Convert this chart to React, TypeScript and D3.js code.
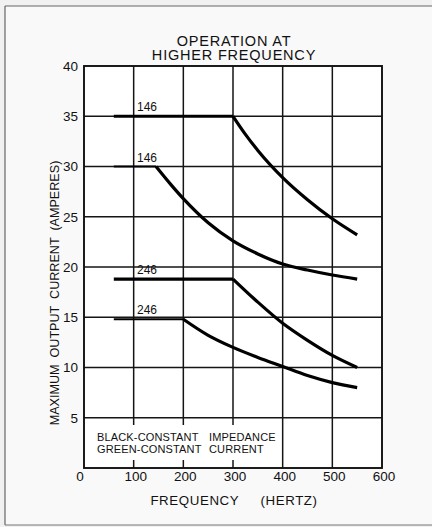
import React from "react";
import * as d3 from "d3";

const W = 432;
const H = 527;

// Data
const xTicks = [0, 100, 200, 300, 400, 500, 600];
const yTicks = [5, 10, 15, 20, 25, 30, 35, 40];

// 146 – constant impedance (black)
const s146ImpFreq = [60, 300, 325, 350, 400, 450, 500, 550];
const s146ImpAmp = [35, 35, 33.2, 31.6, 28.9, 26.7, 24.8, 23.2];
// 146 – constant current (green)
const s146CurFreq = [60, 145, 175, 200, 250, 300, 350, 400, 450, 500, 550];
const s146CurAmp = [30, 30, 28.2, 26.8, 24.4, 22.6, 21.3, 20.3, 19.7, 19.2, 18.8];
// 246 – constant impedance (black)
const s246ImpFreq = [60, 300, 350, 400, 450, 500, 550];
const s246ImpAmp = [18.8, 18.8, 16.5, 14.4, 12.7, 11.2, 10.0];
// 246 – constant current (green)
const s246CurFreq = [60, 200, 250, 300, 350, 400, 450, 500, 550];
const s246CurAmp = [14.8, 14.8, 13.2, 12.0, 11.0, 10.1, 9.2, 8.5, 8.0];

const seriesLabels = ["146", "146", "246", "246"];

const FONT = "'Liberation Sans', Arial, sans-serif";

export default function App() {
  const x = d3.scaleLinear().domain([0, 600]).range([84, 382]);
  const y = d3.scaleLinear().domain([0, 40]).range([468, 66]);

  const series = [
    { f: s146ImpFreq, a: s146ImpAmp, label: seriesLabels[0], flatW: 3 },
    { f: s146CurFreq, a: s146CurAmp, label: seriesLabels[1], flatW: 2 },
    { f: s246ImpFreq, a: s246ImpAmp, label: seriesLabels[2], flatW: 3.2 },
    { f: s246CurFreq, a: s246CurAmp, label: seriesLabels[3], flatW: 2 },
  ];

  const line = d3
    .line<[number, number]>()
    .x((d) => x(d[0]))
    .y((d) => y(d[1]))
    .curve(d3.curveMonotoneX);
  const straight = d3
    .line<[number, number]>()
    .x((d) => x(d[0]))
    .y((d) => y(d[1]));

  const gridColor = "#151515";

  return (
    <svg
      width={W}
      height={H}
      style={{ position: "absolute", left: 0, top: 0, display: "block" }}
      fontFamily={FONT}
    >
      <rect x={0} y={0} width={W} height={H} fill="#f1f1f1" />
      <rect x={5} y={6} width={W - 5} height={519} fill="#f9f9f9" />
      <line x1={5} y1={6} x2={W} y2={6} stroke="#666" strokeWidth={1.2} />
      <line x1={5} y1={6} x2={5} y2={525} stroke="#666" strokeWidth={1.2} />
      <line x1={5} y1={525} x2={W} y2={525} stroke="#777" strokeWidth={1.2} />

      {/* plot area */}
      <rect x={x(0)} y={y(40)} width={x(600) - x(0)} height={y(0) - y(40)} fill="#fff" />

      {/* grid */}
      {xTicks.slice(1, -1).map((t) => (
        <line key={"vx" + t} x1={x(t)} x2={x(t)} y1={y(40)} y2={y(0)} stroke={gridColor} strokeWidth={1.5} />
      ))}
      {yTicks.slice(0, -1).map((t) => (
        <line key={"hy" + t} x1={x(0)} x2={x(600)} y1={y(t)} y2={y(t)} stroke={gridColor} strokeWidth={1.5} />
      ))}
      <rect
        x={x(0)}
        y={y(40)}
        width={x(600) - x(0)}
        height={y(0) - y(40)}
        fill="none"
        stroke="#111"
        strokeWidth={1.9}
      />

      {/* legend note box */}
      <rect x={86} y={425} width={188} height={35} fill="#fff" />
      <g fontSize={11} fill="#111" letterSpacing={0.15}>
        <text x={97} y={441}>BLACK-CONSTANT</text>
        <text x={209} y={441}>IMPEDANCE</text>
        <text x={97} y={453}>GREEN-CONSTANT</text>
        <text x={209} y={453}>CURRENT</text>
      </g>

      {/* curves */}
      {series.map((s, i) => {
        const pts: [number, number][] = s.f.map((f, j) => [f, s.a[j]]);
        const flat = pts.slice(0, 2);
        const slope = pts.slice(1);
        return (
          <g key={"s" + i}>
            <path d={straight(flat) || ""} fill="none" stroke="#000" strokeWidth={s.flatW} />
            <path d={line(slope) || ""} fill="none" stroke="#000" strokeWidth={3.2} strokeLinecap="butt" />
            <text x={137} y={y(s.a[0]) - 5} fontSize={12} fill="#111">
              {s.label}
            </text>
          </g>
        );
      })}

      {/* y tick labels */}
      {yTicks.map((t) => (
        <text key={"yl" + t} x={78} y={y(t)} dy="0.36em" textAnchor="end" fontSize={13.5} fill="#111">
          {t}
        </text>
      ))}
      {/* x tick labels */}
      {xTicks.map((t) => (
        <text key={"xl" + t} x={x(t) + (t === 0 ? -4 : 2)} y={481} textAnchor="middle" fontSize={13.5} fill="#111">
          {t}
        </text>
      ))}

      {/* titles */}
      <g fontSize={14.5} fill="#111" textAnchor="middle" letterSpacing={0.8}>
        <text x={234} y={45.5}>OPERATION AT</text>
        <text x={234} y={60}>HIGHER FREQUENCY</text>
      </g>
      <text x={234} y={505} textAnchor="middle" fontSize={13.3} fill="#111" letterSpacing={0.6} xmlSpace="preserve">
        {"FREQUENCY     (HERTZ)"}
      </text>
      <text
        transform={`translate(59,293) rotate(-90)`}
        textAnchor="middle"
        fontSize={12.6}
        fill="#111"
        xmlSpace="preserve"
      >
        {"MAXIMUM  OUTPUT  CURRENT  (AMPERES)"}
      </text>
    </svg>
  );
}
